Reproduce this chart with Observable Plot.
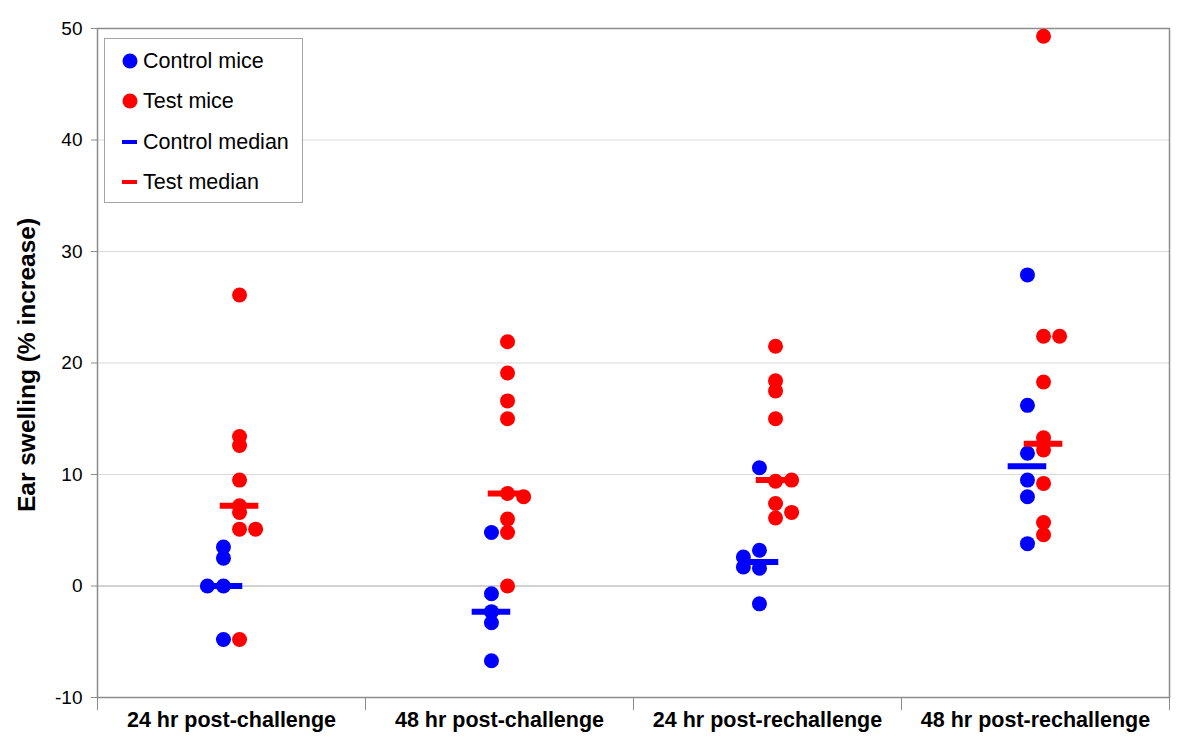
<!DOCTYPE html>
<html>
<head>
<meta charset="utf-8">
<script src="https://cdn.jsdelivr.net/npm/d3@7"></script>
<script src="https://cdn.jsdelivr.net/npm/@observablehq/plot@0.6"></script>
<style>
  body { margin: 0; background: #fff; }
  #wrap { position: relative; width: 1200px; height: 753px; font-family: "Liberation Sans", Arial, sans-serif; }
  #legend { position: absolute; left: 104px; top: 38px; width: 197px; height: 163px; border: 1px solid #a6a6a6; background: #fff; }
  .row { position: absolute; left: 0; height: 40px; width: 197px; font-size: 21.5px; color: #000; }
  .row svg { position: absolute; left: 17px; top: 12px; }
  .row span { position: absolute; left: 38px; top: 0; line-height: 40px; white-space: nowrap; }
</style>
</head>
<body>
<div id="wrap"></div>
<script>
// ---- data ----
const categories = ["24 hr post-challenge", "48 hr post-challenge", "24 hr post-rechallenge", "48 hr post-rechallenge"];
const yTicks = [-10, 0, 10, 20, 30, 40, 50];

// Ear swelling (% increase) per group
const controlValues = [
  [3.5, 2.5, 0.0, 0.0, -4.8],
  [4.8, -0.7, -2.3, -3.3, -6.7],
  [10.6, 3.2, 2.6, 1.7, 1.6, -1.6],
  [27.9, 16.2, 11.9, 9.5, 8.0, 3.8]
];
// sub-column of each control point (0 = main column, -1 = shifted left)
const controlColumn = [
  [0, 0, -1, 0, 0],
  [0, 0, 0, 0, 0],
  [0, 0, -1, -1, 0, 0],
  [0, 0, 0, 0, 0, 0]
];
const testValues = [
  [26.1, 13.4, 12.6, 9.5, 7.2, 6.6, 5.1, 5.1, -4.8],
  [21.9, 19.1, 16.6, 15.0, 8.3, 8.0, 6.0, 4.8, 0.0],
  [21.5, 18.4, 17.5, 15.0, 9.4, 9.5, 7.4, 6.6, 6.1],
  [49.3, 22.4, 22.4, 18.3, 13.3, 12.2, 9.2, 5.7, 4.6]
];
// sub-column of each test point (0 = main column, 1 = shifted right)
const testColumn = [
  [0, 0, 0, 0, 0, 0, 0, 1, 0],
  [0, 0, 0, 0, 0, 1, 0, 0, 0],
  [0, 0, 0, 0, 0, 1, 0, 1, 0],
  [0, 0, 1, 0, 0, 0, 0, 0, 0]
];
const controlMedian = [0.0, -2.3, 2.15, 10.75];
const testMedian = [7.2, 8.3, 9.5, 12.75];

// ---- build tables ----
const sideOffset = 0.03, colStep = 0.06, halfBar = 0.072;
function points(values, columns, side) {
  const out = [];
  values.forEach((vals, g) => vals.forEach((v, i) => {
    out.push({x: g + 1 + side * sideOffset + columns[g][i] * colStep, y: v});
  }));
  return out;
}
const controlPts = points(controlValues, controlColumn, -1);
const testPts = points(testValues, testColumn, 1);
const medians = (arr, side) => arr.map((v, g) => ({
  x1: g + 1 + side * sideOffset - halfBar,
  x2: g + 1 + side * sideOffset + halfBar,
  y: v
}));

const BLUE = "#0000ff", RED = "#ff0000";

const chart = Plot.plot({
  width: 1200,
  height: 753,
  marginLeft: 97,
  marginRight: 31,
  marginTop: 28,
  marginBottom: 56,
  style: {fontFamily: '"Liberation Sans", Arial, sans-serif', background: "#fff", overflow: "visible"},
  x: {domain: [0.5, 4.5]},
  y: {domain: [-10, 50]},
  marks: [
    Plot.ruleY(yTicks.filter(v => v > -10 && v < 50 && v !== 0), {stroke: "#d9d9d9", strokeWidth: 1}),
    Plot.ruleY([0], {stroke: "#a6a6a6", strokeWidth: 1}),
    Plot.frame({stroke: "#8c8c8c", strokeWidth: 1.5}),
    Plot.axisY({ticks: yTicks, tickSize: 6, tickPadding: 9, fontSize: 19, stroke: "#8c8c8c", tickFormat: d => String(d), label: null}),
    Plot.axisX({ticks: [0.5, 1.5, 2.5, 3.5, 4.5], tickSize: 13, tickFormat: () => "", stroke: "#8c8c8c", label: null}),
    Plot.axisX({ticks: [1, 2, 3, 4], tickSize: 0, tickPadding: 14, tickFormat: d => categories[d - 1], fontSize: 21.5, fontWeight: "bold", label: null}),
    Plot.text(["Ear swelling (% increase)"], {frameAnchor: "left", textAnchor: "middle", lineAnchor: "middle", rotate: -90, dx: -70, dy: 2, fontSize: 24.5, fontWeight: "bold", fill: "#000"}),
    Plot.dot(controlPts, {x: "x", y: "y", r: 7.5, fill: BLUE, stroke: "none"}),
    Plot.dot(testPts, {x: "x", y: "y", r: 7.5, fill: RED, stroke: "none"}),
    Plot.ruleY(medians(controlMedian, -1), {x1: "x1", x2: "x2", y: "y", stroke: BLUE, strokeWidth: 6}),
    Plot.ruleY(medians(testMedian, 1), {x1: "x1", x2: "x2", y: "y", stroke: RED, strokeWidth: 6})
  ]
});

const wrap = document.getElementById("wrap");
wrap.appendChild(chart);

// ---- legend (inside the plot area, as in the reference) ----
const legendItems = [
  {label: "Control mice", color: BLUE, type: "dot"},
  {label: "Test mice", color: RED, type: "dot"},
  {label: "Control median", color: BLUE, type: "bar"},
  {label: "Test median", color: RED, type: "bar"}
];
const legend = document.createElement("div");
legend.id = "legend";
legendItems.forEach((it, i) => {
  const row = document.createElement("div");
  row.className = "row";
  row.style.top = (2 + i * 40.3) + "px";
  const icon = it.type === "dot"
    ? `<svg width="16" height="16"><circle cx="8" cy="8" r="7.5" fill="${it.color}"/></svg>`
    : `<svg width="16" height="16"><rect x="0" y="6" width="15" height="4" fill="${it.color}"/></svg>`;
  row.innerHTML = icon + `<span>${it.label}</span>`;
  legend.appendChild(row);
});
wrap.appendChild(legend);
</script>
</body>
</html>
